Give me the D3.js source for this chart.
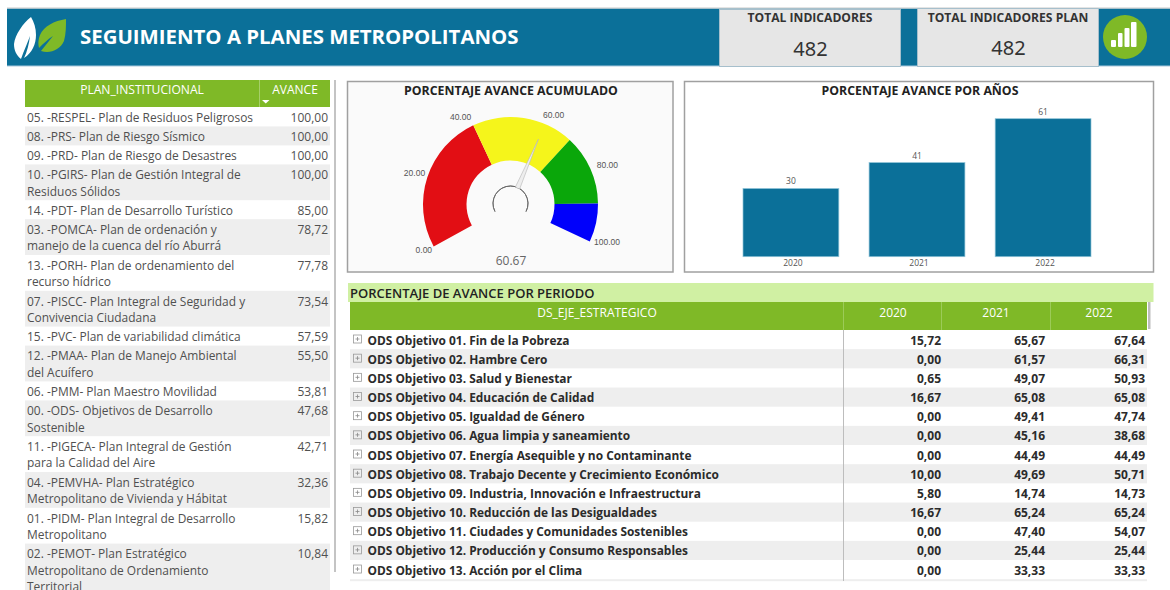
<!DOCTYPE html>
<html><head><meta charset="utf-8">
<script src="https://cdnjs.cloudflare.com/ajax/libs/d3/7.8.5/d3.min.js"></script>
<style>html,body{margin:0;padding:0;background:#fff;overflow:hidden}svg{display:block}</style>
</head><body><svg id="c" width="1170" height="590"></svg>
<script>
const planLabels=[
["05. -RESPEL- Plan de Residuos Peligrosos"],["08. -PRS- Plan de Riesgo Sísmico"],["09. -PRD- Plan de Riesgo de Desastres"],
["10. -PGIRS- Plan de Gestión Integral de","Residuos Sólidos"],["14. -PDT- Plan de Desarrollo Turístico"],
["03. -POMCA- Plan de ordenación y","manejo de la cuenca del río Aburrá"],["13. -PORH- Plan de ordenamiento del","recurso hídrico"],
["07. -PISCC- Plan Integral de Seguridad y","Convivencia Ciudadana"],["15. -PVC- Plan de variabilidad climática"],
["12. -PMAA- Plan de Manejo Ambiental","del Acuífero"],["06. -PMM- Plan Maestro Movilidad"],
["00. -ODS- Objetivos de Desarrollo","Sostenible"],["11. -PIGECA- Plan Integral de Gestión","para la Calidad del Aire"],
["04. -PEMVHA- Plan Estratégico","Metropolitano de Vivienda y Hábitat"],["01. -PIDM- Plan Integral de Desarrollo","Metropolitano"],
["02. -PEMOT- Plan Estratégico","Metropolitano de Ordenamiento","Territorial"]];
const planValues=["100,00","100,00","100,00","100,00","85,00","78,72","77,78","73,54","57,59","55,50","53,81","47,68","42,71","32,36","15,82","10,84"];
const years=["2020","2021","2022"];
const yearValues=[30,41.4,60.7];
const gaugeStops=[0,40,69,89,100];
const gaugeColors=["#e20e14","#f5f51b","#0aa70a","#0000fb"];
const gaugeTicks=[0,20,40,60,80,100];
const gaugeValue=60.67;
const odsNames=["ODS Objetivo 01. Fin de la Pobreza","ODS Objetivo 02. Hambre Cero","ODS Objetivo 03. Salud y Bienestar","ODS Objetivo 04. Educación de Calidad","ODS Objetivo 05. Igualdad de Género","ODS Objetivo 06. Agua limpia y saneamiento","ODS Objetivo 07. Energía Asequible y no Contaminante","ODS Objetivo 08. Trabajo Decente y Crecimiento Económico","ODS Objetivo 09. Industria, Innovación e Infraestructura","ODS Objetivo 10. Reducción de las Desigualdades","ODS Objetivo 11. Ciudades y Comunidades Sostenibles","ODS Objetivo 12. Producción y Consumo Responsables","ODS Objetivo 13. Acción por el Clima"];
const ods2020=["15,72","0,00","0,65","16,67","0,00","0,00","0,00","10,00","5,80","16,67","0,00","0,00","0,00"];
const ods2021=["65,67","61,57","49,07","65,08","49,41","45,16","44,49","49,69","14,74","65,24","47,40","25,44","33,33"];
const ods2022=["67,64","66,31","50,93","65,08","47,74","38,68","44,49","50,71","14,73","65,24","54,07","25,44","33,33"];

const F="'Open Sans',sans-serif";
const svg=d3.select("#c");
const T=(g,x,y,s,o={})=>g.append("text").attr("x",x).attr("y",y).text(s)
 .attr("font-family",o.f||F).attr("font-size",o.s||12).attr("font-weight",o.w||400)
 .attr("fill",o.c||"#444").attr("text-anchor",o.a||"start");
const R=(g,x,y,w,h,fill,o={})=>g.append("rect").attr("x",x).attr("y",y).attr("width",w).attr("height",h).attr("fill",fill)
 .attr("stroke",o.st||"none").attr("stroke-width",o.sw||1).attr("rx",o.rx||0);

// header
R(svg,7,8.5,1163,57.5,"#0b7099");
svg.append("line").attr("x1",7).attr("x2",1170).attr("y1",8).attr("y2",8).attr("stroke","#c9c9c9");
svg.append("line").attr("x1",7).attr("x2",1170).attr("y1",66).attr("y2",66).attr("stroke","#a9c8dc");
T(svg,80,44,"SEGUIMIENTO A PLANES METROPOLITANOS",{s:20.4,w:700,c:"#fff"});
svg.append("path").attr("fill","#fff").attr("d","M31 17C23 23 15 35 14 44C14 50 16 55 21 59C24 50 28 42 30 36C29 44 27 52 24 58C32 53 36 44 36 35C36 28 34 22 31 17Z");
svg.append("path").attr("fill","#7fb927").attr("d","M66 19C54 21 44 26 40 35C38 40 38 44 39 48C43 44 48 39 53 36C49 41 45 46 41 51C50 54 60 50 64 41C66 34 66 26 66 19Z");
[[719,9,181,57,"TOTAL INDICADORES",56],[917,8,181,58,"TOTAL INDICADORES PLAN",55]].forEach(d=>{
 R(svg,d[0]+.5,d[1]+.5,d[2],d[3],"#e6e6e6",{st:"#a6bfcc"});
 T(svg,d[0]+d[2]/2+.5,22,d[4],{s:12.1,w:700,c:"#333",a:"middle"});
 T(svg,d[0]+d[2]/2+1,d[5],"482",{s:20,c:"#333",a:"middle",f:"'Noto Sans',sans-serif"});
});
svg.append("circle").attr("cx",1125).attr("cy",37).attr("r",22).attr("fill","#7fb927");
[[1111,5,7],[1118,4.5,14],[1124.5,5,19],[1131,5.5,25]].forEach(b=>R(svg,b[0],47-b[2],b[1],b[2],"#fff",{rx:1}));

// left table
R(svg,25,80,305,27,"#7fb927");
svg.append("line").attr("x1",259.5).attr("x2",259.5).attr("y1",80).attr("y2",107).attr("stroke","#a6cf68");
T(svg,142,94,"PLAN_INSTITUCIONAL",{s:12.1,c:"#fff",a:"middle"});
T(svg,295,94,"AVANCE",{s:12,c:"#fff",a:"middle"});
svg.append("path").attr("d","M262 100h7.5l-3.75 3.5z").attr("fill","#fff");
R(svg,334,80,2,492,"#c4c4c4");
let py=107.4;
planLabels.forEach((l,i)=>{
 const h=l.length==1?19:(l.length==2?35.8:48);
 if(i%2==1) R(svg,25,py,305,h,"#eeeeee");
 l.forEach((s,k)=>T(svg,27,py+14.8+k*16.4,s,{s:11.95,c:"#505050"}));
 T(svg,328,py+14.8,planValues[i],{s:12,c:"#505050",a:"end"});
 py+=h;
});

// gauge
R(svg,347.5,81.5,325.5,190.5,"#fafafa",{st:"#a0a0a0",sw:1.5});
T(svg,511,95,"PORCENTAJE AVANCE ACUMULADO",{s:12.3,w:700,c:"#222",a:"middle"});
const cx=510.5,cy=204.5;
const ang=d3.scaleLinear().domain([0,100]).range([-118.6,115].map(d=>d*Math.PI/180));
const arc=d3.arc().innerRadius(44).outerRadius(87.5);
gaugeColors.forEach((c,i)=>svg.append("path").attr("transform",`translate(${cx},${cy})`).attr("fill",c)
 .attr("d",arc({startAngle:ang(gaugeStops[i]),endAngle:ang(gaugeStops[i+1])})));
const nudge={0:[2,-3],40:[-7,4],60:[6,4],80:[3,-2],100:[5,-5]};
gaugeTicks.forEach(t=>{
 const a=ang(t),n=nudge[t]||[0,0];
 T(svg,cx+101*Math.sin(a)+n[0],cy-101*Math.cos(a)+3+n[1],t.toFixed(2),{s:8.5,c:"#555",a:"middle",f:"'Liberation Sans',sans-serif"});
});
const na=ang(gaugeValue);
svg.append("path").attr("fill","none").attr("stroke","#666").attr("stroke-width",.9)
 .attr("d",d3.arc().innerRadius(17.5).outerRadius(17.5)({startAngle:-2.05,endAngle:2.05})).attr("transform",`translate(${cx},${cy-1})`);
svg.append("path").attr("fill","#eeeeee").attr("stroke","#b5b5b5").attr("stroke-width",.6)
 .attr("d",`M${cx+18*Math.sin(na-.13)} ${cy-18*Math.cos(na-.13)}L${cx+71*Math.sin(na)} ${cy-71*Math.cos(na)}L${cx+18*Math.sin(na+.13)} ${cy-18*Math.cos(na+.13)}Z`);
T(svg,511,265,gaugeValue.toFixed(2),{s:12,c:"#666",a:"middle"});

// bars
R(svg,684.5,81.5,469,190.5,"#fff",{st:"#a0a0a0",sw:1.5});
T(svg,920,95,"PORCENTAJE AVANCE POR AÑOS",{s:12.3,w:700,c:"#222",a:"middle"});
const x=d3.scaleBand().domain(years).range([743,1091]).paddingInner(.24).paddingOuter(0);
const y=d3.scaleLinear().domain([0,60.7]).range([256.7,118.7]);
years.forEach((yr,i)=>{
 R(svg,x(yr),y(yearValues[i]),x.bandwidth(),y(0)-y(yearValues[i]),"#0b7099",{st:"#8fc4d8",sw:.7});
 T(svg,x(yr)+x.bandwidth()/2,y(yearValues[i])-4,d3.format(".0f")(yearValues[i]),{s:8.5,c:"#555",a:"middle"});
 T(svg,x(yr)+x.bandwidth()/2+2,266,yr,{s:8.5,c:"#555",a:"middle"});
});

// matrix
R(svg,348,283,805.5,19,"#d0f0a3");
T(svg,350,297.5,"PORCENTAJE DE AVANCE POR PERIODO",{s:13,w:600,c:"#222"});
R(svg,350,302,797,28,"#7fb927");
T(svg,597,317,"DS_EJE_ESTRATEGICO",{s:12,c:"#fff",a:"middle"});
[844,942,1051].forEach(v=>svg.append("line").attr("x1",v-.5).attr("x2",v-.5).attr("y1",302).attr("y2",330).attr("stroke","#9ccb58"));
[[893,"2020"],[996,"2021"],[1099,"2022"]].forEach(d=>T(svg,d[0],317,d[1],{s:12,c:"#fff",a:"middle"}));
R(svg,1148,302,2.5,27,"#bdbdbd");
const rowY=d3.scaleBand().domain(odsNames).range([330,579.2]);
odsNames.forEach((n,i)=>{
 const ry=rowY(n),m=ry+14.5;
 if(i%2==1) R(svg,350,ry,797,rowY.bandwidth(),"#eeeeee");
 R(svg,353.5,m-9.5,8,8,"none",{st:"#999",sw:.8});
 svg.append("path").attr("d",`M355.5 ${m-5.5}h4M357.5 ${m-7.5}v4`).attr("stroke","#888").attr("stroke-width",.8);
 T(svg,367.5,m,n,{s:11.9,w:700,c:"#2b2b2b"});
 T(svg,941,m,ods2020[i],{s:12,w:700,c:"#2b2b2b",a:"end"});
 T(svg,1045,m,ods2021[i],{s:12,w:700,c:"#2b2b2b",a:"end"});
 T(svg,1145,m,ods2022[i],{s:12,w:700,c:"#2b2b2b",a:"end"});
});
R(svg,350,579.2,797,2,"#eeeeee");
svg.append("line").attr("x1",843.5).attr("x2",843.5).attr("y1",330).attr("y2",581).attr("stroke","#bdbdbd");
</script></body></html>
